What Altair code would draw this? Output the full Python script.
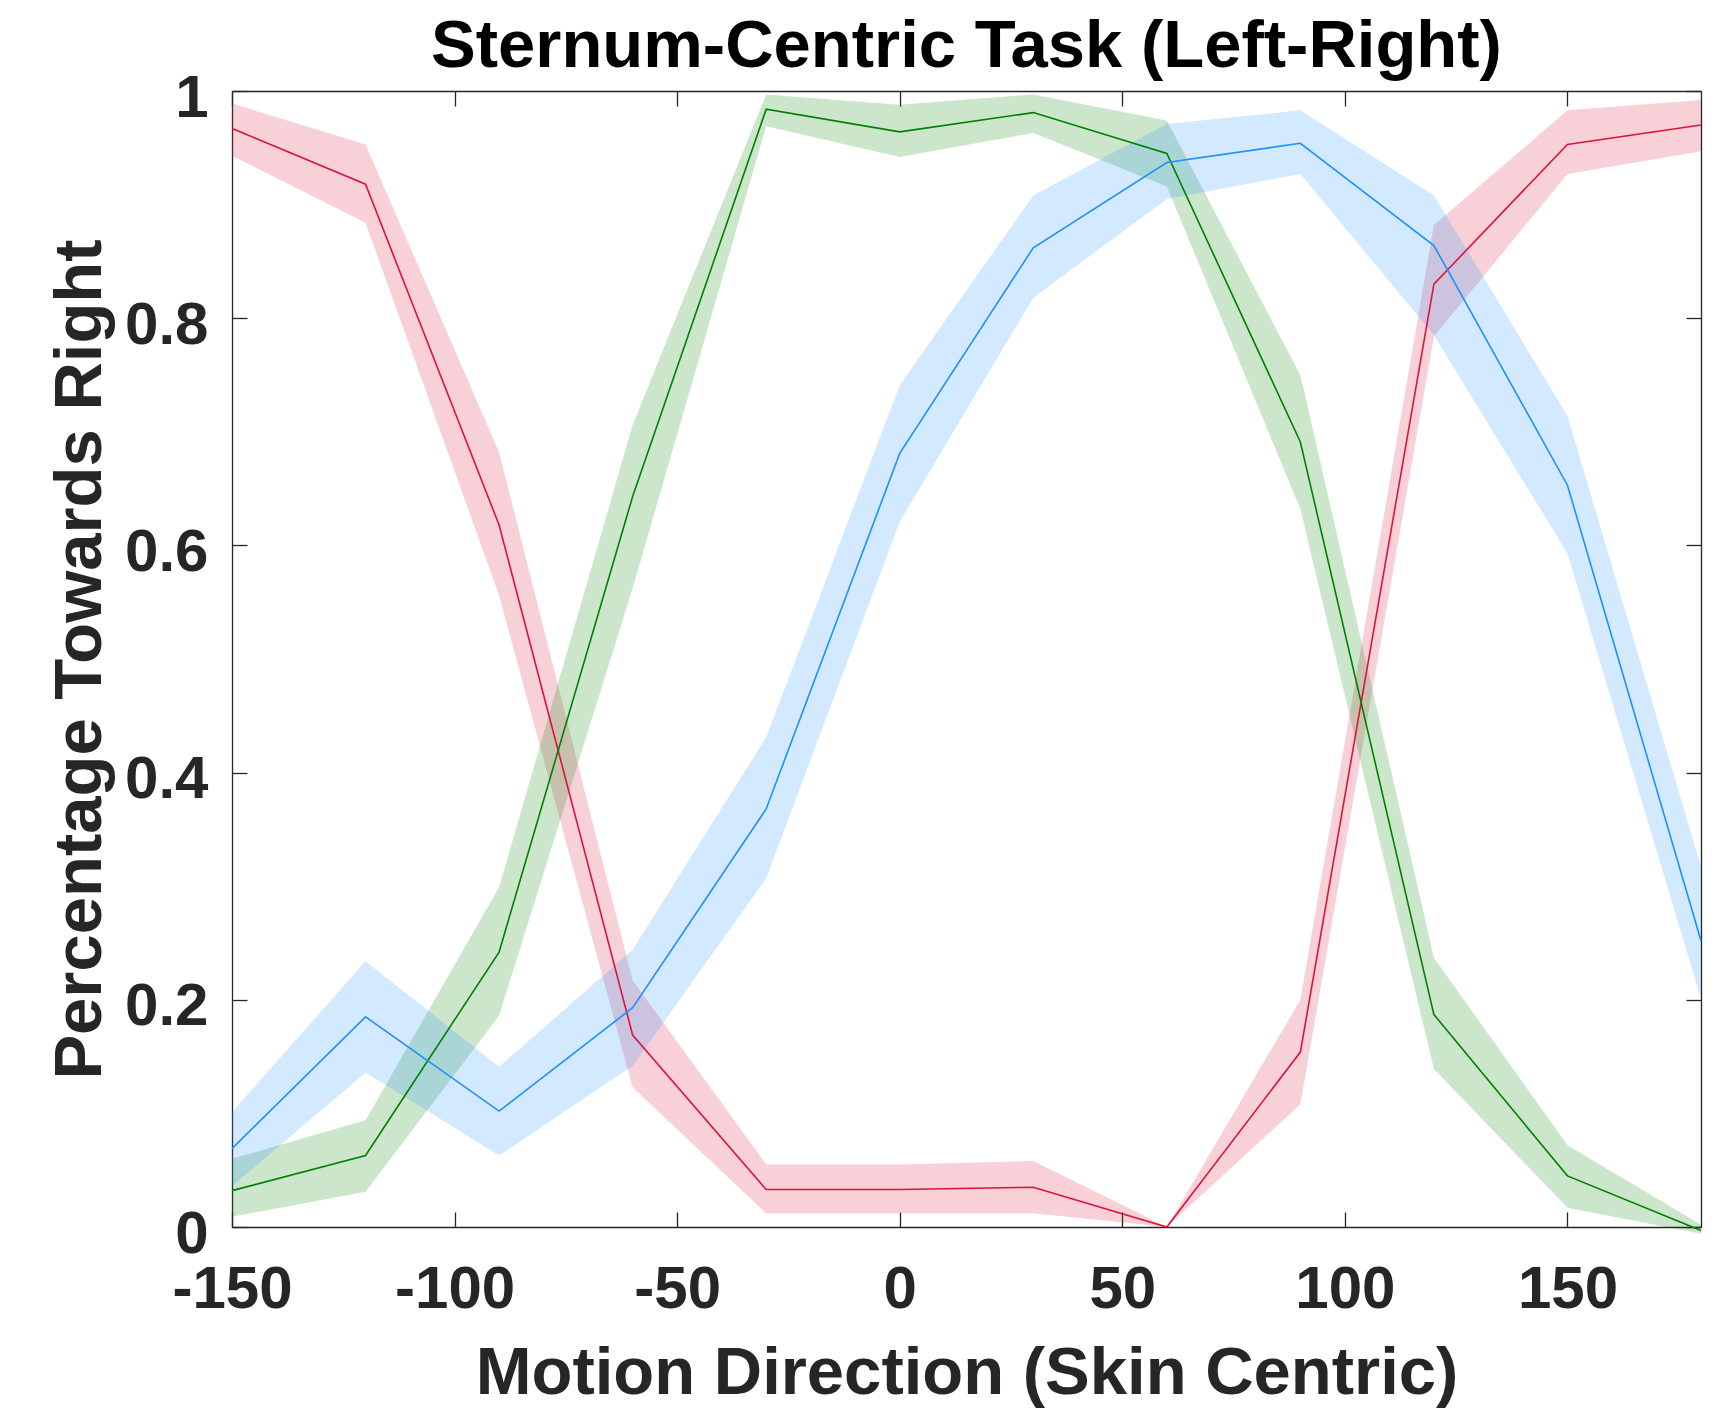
import altair as alt
import pandas as pd

# ---------------- data ----------------
x_deg = [-150, -120, -90, -60, -30, 0, 30, 60, 90, 120, 150, 180]

red_mean = [0.967, 0.918, 0.618, 0.169, 0.033, 0.033, 0.035, 0.0, 0.154, 0.830, 0.953, 0.970]
red_lo = [0.943, 0.884, 0.556, 0.123, 0.012, 0.012, 0.012, 0.0, 0.108, 0.784, 0.927, 0.947]
red_hi = [0.989, 0.953, 0.682, 0.217, 0.055, 0.055, 0.058, 0.0, 0.200, 0.882, 0.983, 0.992]

green_mean = [0.032, 0.063, 0.242, 0.643, 0.984, 0.964, 0.981, 0.945, 0.691, 0.187, 0.045, -0.003]
green_lo = [0.009, 0.031, 0.186, 0.562, 0.969, 0.942, 0.963, 0.916, 0.632, 0.139, 0.017, -0.006]
green_hi = [0.060, 0.094, 0.299, 0.706, 0.997, 0.988, 0.997, 0.974, 0.750, 0.237, 0.072, 0.002]

blue_mean = [0.069, 0.185, 0.102, 0.193, 0.368, 0.681, 0.862, 0.937, 0.954, 0.864, 0.653, 0.252]
blue_lo = [0.036, 0.136, 0.063, 0.142, 0.307, 0.621, 0.818, 0.905, 0.927, 0.785, 0.593, 0.201]
blue_hi = [0.101, 0.234, 0.141, 0.244, 0.431, 0.741, 0.908, 0.971, 0.983, 0.908, 0.714, 0.317]

series_names = ["red", "green", "blue"]
series_colors = ["#DC143C", "#008000", "#1E90FF"]

x_ticks = [-150, -100, -50, 0, 50, 100, 150]
y_ticks = [0, 0.2, 0.4, 0.6, 0.8, 1]

title_text = "Sternum-Centric Task (Left-Right)"
x_title = "Motion Direction (Skin Centric)"
y_title = "Percentage Towards Right"

# ---------------- table ----------------
rows = []
for name, m, lo, hi in [
    ("red", red_mean, red_lo, red_hi),
    ("green", green_mean, green_lo, green_hi),
    ("blue", blue_mean, blue_lo, blue_hi),
]:
    for xi, a, b, c in zip(x_deg, m, lo, hi):
        rows.append({"x": xi, "series": name, "mean": a, "lo": b, "hi": c})
df = pd.DataFrame(rows)

# ---------------- styling ----------------
W, H = 1469, 1136
FONT = "Liberation Sans"
TXT = "#262626"
TICK = 15

xs = alt.Scale(domain=[-150, 180], nice=False, zero=False)
ys = alt.Scale(domain=[0, 1], nice=False, zero=False)

common = dict(grid=False, tickColor=TXT, tickWidth=1.3, domainColor=TXT, domainWidth=1.3)

# bottom axis: labels + title + bottom border
ax1 = alt.Axis(orient="bottom", values=x_ticks, labelExpr="datum.value + ''",
               labelFont=FONT, labelFontSize=60, labelFontWeight="bold", labelColor=TXT,
               labelPadding=80, labelBaseline="alphabetic", labelFlush=False, labelOverlap=False,
               ticks=False, tickSize=0, domain=True,
               title=x_title, titleFont=FONT, titleFontSize=67, titleFontWeight="bold",
               titleColor=TXT, titleX=W / 2, titleY=166, titleAlign="center",
               titleBaseline="alphabetic", **common)
# inward ticks at the bottom
ax2 = alt.Axis(orient="top", offset=-H, values=x_ticks, labels=False, ticks=True,
               tickSize=TICK, domain=False, title=None, **common)
# top border + inward ticks at the top
ax3 = alt.Axis(orient="bottom", offset=-H, values=x_ticks, labels=False, ticks=True,
               tickSize=TICK, domain=True, title=None, **common)

ay1 = alt.Axis(orient="left", values=y_ticks, labelExpr="datum.value + ''",
               labelFont=FONT, labelFontSize=60, labelFontWeight="bold", labelColor=TXT,
               labelPadding=24, labelOffset=7, labelOverlap=False,
               ticks=False, tickSize=0, domain=True,
               title=y_title, titleFont=FONT, titleFontSize=67, titleFontWeight="bold",
               titleColor=TXT, titleAngle=270, titleX=-132, titleY=H / 2,
               titleAlign="center", titleBaseline="alphabetic", **common)
ay2 = alt.Axis(orient="right", offset=-W, values=y_ticks, labels=False, ticks=True,
               tickSize=TICK, domain=False, title=None, **common)
ay3 = alt.Axis(orient="left", offset=-W, values=y_ticks, labels=False, ticks=True,
               tickSize=TICK, domain=True, title=None, **common)

base = alt.Chart(df)

bands = base.mark_area(opacity=0.2).encode(
    x=alt.X("x:Q", scale=xs, axis=ax1),
    y=alt.Y("lo:Q", scale=ys, axis=ay1),
    y2="hi:Q",
    color=alt.Color("series:N", scale=alt.Scale(domain=series_names, range=series_colors),
                    legend=None),
)


def line(name, color, xaxis, yaxis):
    return base.transform_filter(f"datum.series == '{name}'").mark_line(
        color=color, strokeWidth=1.6
    ).encode(
        x=alt.X("x:Q", scale=xs, axis=xaxis),
        y=alt.Y("mean:Q", scale=ys, axis=yaxis),
    )


l_red = line("red", series_colors[0], ax2, ay2)
l_green = line("green", series_colors[1], ax3, ay3)
l_blue = line("blue", series_colors[2], None, None)

chart = alt.layer(bands, l_red, l_green, l_blue).resolve_axis(
    x="independent", y="independent"
).properties(
    width=W,
    height=H,
    background="white",
    title=alt.TitleParams(title_text, font=FONT, fontSize=67, fontWeight="bold",
                          color="#000000", anchor="middle", frame="group",
                          baseline="alphabetic", offset=-66),
    autosize=alt.AutoSizeParams(type="none"),
    padding={"left": 224, "top": 83, "right": 12, "bottom": 182},
).configure_view(stroke=None)

chart.save("out.html", embed_options={"renderer": "svg", "actions": False})
